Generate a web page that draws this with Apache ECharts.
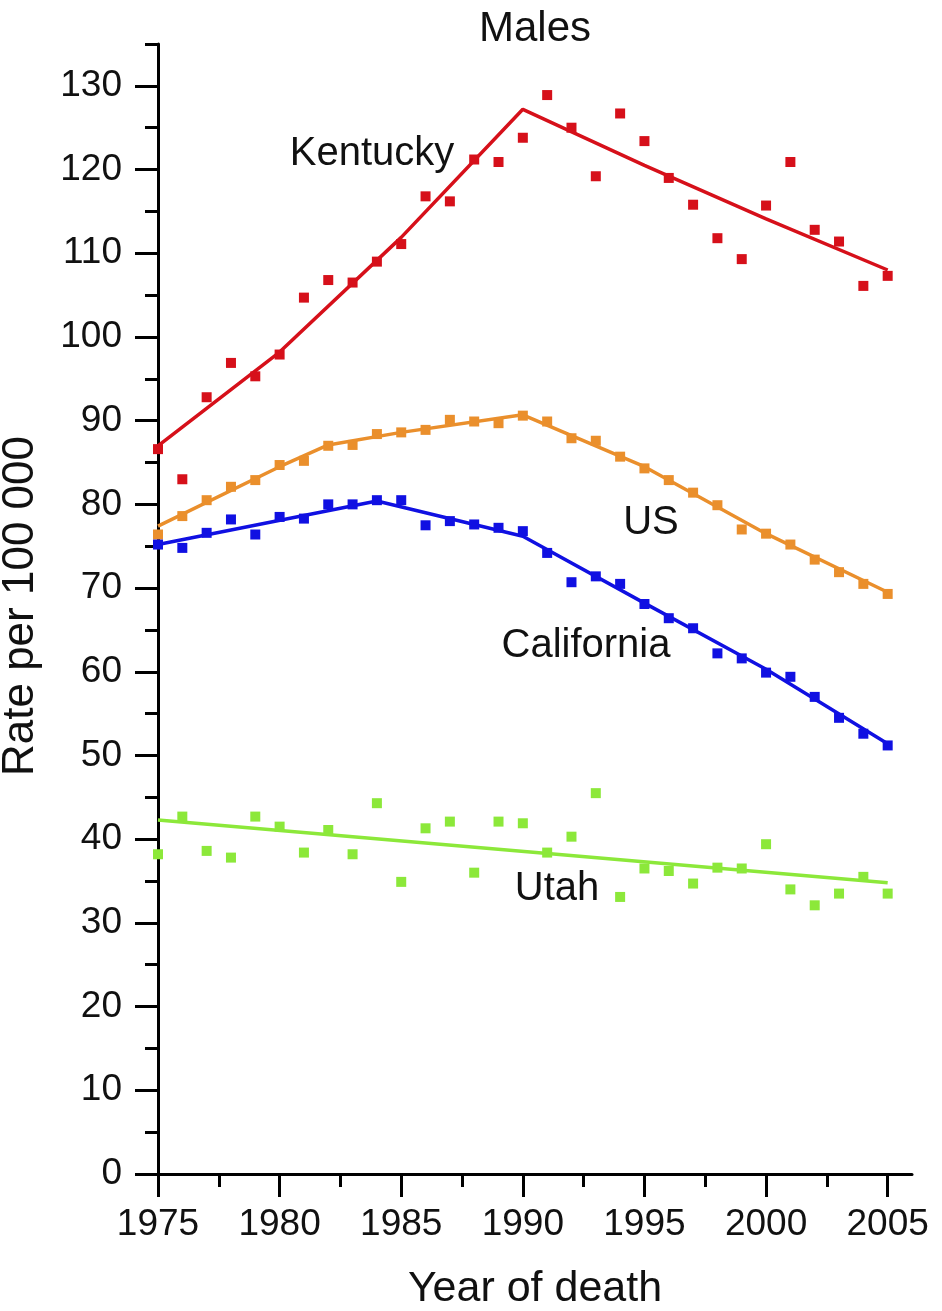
<!DOCTYPE html>
<html>
<head>
<meta charset="utf-8">
<script src="https://cdn.jsdelivr.net/npm/echarts@6/dist/echarts.min.js"></script>
<style>
  html, body { margin: 0; padding: 0; background: #fff; }
  #chart { width: 942px; height: 1311px; }
</style>
</head>
<body>
<div id="chart"></div>
<script>
// ---- Data ----
const years = [1975,1976,1977,1978,1979,1980,1981,1982,1983,1984,1985,1986,1987,1988,1989,1990,
               1991,1992,1993,1994,1995,1996,1997,1998,1999,2000,2001,2002,2003,2004,2005];
const kentucky = [86.6,83.0,92.8,96.9,95.3,97.9,104.7,106.8,106.5,109.0,111.1,116.8,116.2,121.2,120.9,123.8,
                  128.9,125.0,119.2,126.7,123.4,119.0,115.8,111.8,109.3,115.7,120.9,112.8,111.4,106.1,107.3];
const us = [76.4,78.6,80.5,82.1,82.9,84.7,85.2,87.0,87.1,88.4,88.6,88.9,90.1,89.9,89.7,90.6,
            89.9,87.9,87.6,85.7,84.3,82.9,81.4,79.9,77.0,76.5,75.2,73.4,71.9,70.5,69.3];
const california = [75.2,74.8,76.6,78.2,76.4,78.5,78.3,80.0,80.0,80.5,80.5,77.5,78.0,77.6,77.2,76.8,
                    74.2,70.7,71.4,70.5,68.1,66.4,65.2,62.2,61.6,59.9,59.4,57.0,54.5,52.6,51.2];
const utah = [38.2,42.7,38.6,37.8,42.7,41.5,38.4,41.1,38.2,44.3,34.9,41.3,42.1,36.0,42.1,41.9,
              38.4,40.3,45.5,33.1,36.5,36.2,34.7,36.6,36.5,39.4,34.0,32.1,33.5,35.5,33.5];

// fitted (joinpoint) trend lines
const kentuckyFitYears = [1975,1980,1985,1990,1995,2000,2005];
const kentuckyFit      = [87.0,98.2,111.9,127.2,120.5,114.1,108.0];
const usFitYears = [1975,1980,1982,1985,1990,1995,2000,2005];
const usFit      = [77.4,84.5,87.1,88.6,90.7,84.5,76.5,69.5];
const californiaFitYears = [1975,1984,1990,1995,2000,2005];
const californiaFit      = [75.2,80.4,76.2,68.2,60.3,51.4];
const utahFitYears = [1975,2005];
const utahFit      = [42.3,34.8];

const xMajorTicks = [1975,1980,1985,1990,1995,2000,2005];
const xMinorTicks = [1977.5,1982.5,1987.5,1992.5,1997.5,2002.5];
const yMajorTicks = [0,10,20,30,40,50,60,70,80,90,100,110,120,130];
const yMinorTicks = [5,15,25,35,45,55,65,75,85,95,105,115,125,135];

const titleText = 'Males';
const xName = 'Year of death';
const yName = 'Rate per 100 000';
const stateLabels = ['Kentucky','US','California','Utah'];

// ---- Style ----
const FONT = 'Liberation Sans, Arial, sans-serif';
const colors = { ky: '#d6101a', us: '#ea8f2c', ca: '#1010e2', ut: '#8ce83a' };
const AX = '#000';

function pairs(xs, ys) { return xs.map((x, i) => [x, ys[i]]); }

function fitSeries(name, xs, ys, color) {
  return {
    name: name, type: 'line', data: pairs(xs, ys),
    showSymbol: false, symbol: 'none', silent: true,
    lineStyle: { color: color, width: 3.5 }, z: 2
  };
}
function dotSeries(name, ys, color) {
  return {
    name: name, type: 'scatter', data: pairs(years, ys),
    symbol: 'rect', symbolSize: 10, silent: true,
    itemStyle: { color: color, opacity: 1 }, z: 3
  };
}

const chart = echarts.init(document.getElementById('chart'), null, { renderer: 'canvas' });

const option = {
  backgroundColor: '#fff',
  animation: false,
  grid: { left: 158, right: 30, top: 44, bottom: 137, containLabel: false },
  xAxis: [
    {
      type: 'value', min: 1975, max: 2006, position: 'bottom',
      axisLine: { show: true, onZero: false, lineStyle: { color: AX, width: 3 } },
      axisTick: { show: true, customValues: xMajorTicks, length: 23, lineStyle: { color: AX, width: 3 } },
      axisLabel: { show: true, customValues: xMajorTicks, formatter: v => String(v), margin: 32, fontSize: 37, fontFamily: FONT, color: '#111' },
      splitLine: { show: false }
    },
    {
      type: 'value', min: 1975, max: 2006, position: 'bottom', offset: 0,
      axisLine: { show: false },
      axisTick: { show: true, customValues: xMinorTicks, length: 13, lineStyle: { color: AX, width: 3 } },
      axisLabel: { show: false },
      splitLine: { show: false }
    }
  ],
  yAxis: [
    {
      type: 'value', min: 0, max: 135, position: 'left',
      axisLine: { show: true, onZero: false, lineStyle: { color: AX, width: 3 } },
      axisTick: { show: true, customValues: yMajorTicks, length: 23, lineStyle: { color: AX, width: 3 } },
      axisLabel: { show: true, customValues: yMajorTicks, formatter: v => String(v), margin: 36, fontSize: 37, fontFamily: FONT, color: '#111' },
      splitLine: { show: false }
    },
    {
      type: 'value', min: 0, max: 135, position: 'left', offset: 0,
      axisLine: { show: false },
      axisTick: { show: true, customValues: yMinorTicks, length: 13, lineStyle: { color: AX, width: 3 } },
      axisLabel: { show: false },
      splitLine: { show: false }
    }
  ],
  series: [
    fitSeries('Kentucky fit', kentuckyFitYears, kentuckyFit, colors.ky),
    fitSeries('US fit', usFitYears, usFit, colors.us),
    fitSeries('California fit', californiaFitYears, californiaFit, colors.ca),
    fitSeries('Utah fit', utahFitYears, utahFit, colors.ut),
    dotSeries('Kentucky', kentucky, colors.ky),
    dotSeries('US', us, colors.us),
    dotSeries('California', california, colors.ca),
    dotSeries('Utah', utah, colors.ut)
  ],
  graphic: [
    { type: 'text', x: 535, y: 29, style: { text: titleText, fontSize: 42, fontFamily: FONT, fill: '#111', align: 'center', verticalAlign: 'middle' } },
    { type: 'text', x: 535, y: 1289, style: { text: xName, fontSize: 43, fontFamily: FONT, fill: '#111', align: 'center', verticalAlign: 'middle' } },
    { type: 'text', x: 21, y: 606, rotation: Math.PI / 2, style: { text: yName, fontSize: 44, fontFamily: FONT, fill: '#111', align: 'center', verticalAlign: 'middle' } },
    { type: 'text', x: 372, y: 154, style: { text: stateLabels[0], fontSize: 40, fontFamily: FONT, fill: '#111', align: 'center', verticalAlign: 'middle' } },
    { type: 'text', x: 651, y: 523, style: { text: stateLabels[1], fontSize: 40, fontFamily: FONT, fill: '#111', align: 'center', verticalAlign: 'middle' } },
    { type: 'text', x: 586, y: 646, style: { text: stateLabels[2], fontSize: 40, fontFamily: FONT, fill: '#111', align: 'center', verticalAlign: 'middle' } },
    { type: 'text', x: 557, y: 889, style: { text: stateLabels[3], fontSize: 40, fontFamily: FONT, fill: '#111', align: 'center', verticalAlign: 'middle' } }
  ]
};
chart.setOption(option);
</script>
</body>
</html>
